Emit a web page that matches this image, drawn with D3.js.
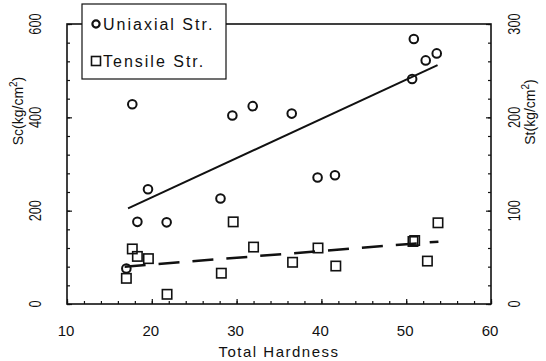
<!DOCTYPE html>
<html>
<head>
<meta charset="utf-8">
<script src="https://cdn.jsdelivr.net/npm/d3@7"></script>
<style>
  body { margin: 0; background: #fff; }
  svg { display: block; font-family: "Liberation Sans", Arial, sans-serif; }
</style>
</head>
<body>
<svg id="chart" width="546" height="361"></svg>
<script>
// hardness / strength readings
var uniHard = [17.0, 17.7, 18.3, 19.55, 21.75, 28.1, 29.5, 31.9, 36.5, 39.55, 41.6, 50.7, 50.9, 52.3, 53.6];
var uniStr  = [76, 428, 176, 246, 175, 226, 404, 424, 408, 271, 276, 482, 568, 522, 537];

var tenHard = [17.0, 17.7, 18.3, 19.6, 21.8, 28.2, 29.6, 32.0, 36.6, 39.6, 41.7, 50.8, 51.0, 52.5, 53.75];
var tenStr  = [27.5, 59, 51, 48.6, 10.4, 33, 88, 61, 44.7, 60, 40.7, 67, 68, 46, 87];

// fitted lines (end points)
var uniFit = [[17.2, 205], [53.7, 512]];
var tenFit = [[16.8, 40], [53.8, 66.8]];

var xTicks = [10, 20, 30, 40, 50, 60];
var leftTicks = [0, 200, 400, 600];
var rightTicks = [0, 100, 200, 300];

var svg = d3.select("#chart");

var x = d3.scaleLinear().domain([10, 60]).range([67, 491]);
var yL = d3.scaleLinear().domain([0, 600]).range([304, 24]);
var yR = d3.scaleLinear().domain([0, 300]).range([304, 24]);

// inward ticks
function tickAxis(axis, minor, major, tr) {
  var g1 = svg.append("g").attr("transform", tr)
    .call(axis.tickValues(minor).tickSize(-3).tickFormat(""));
  g1.select(".domain").remove();
  var g2 = svg.append("g").attr("transform", tr)
    .call(axis.tickValues(major).tickSize(-5).tickFormat(""));
  g2.select(".domain").remove();
  svg.selectAll(".tick line").attr("stroke", "#111").attr("stroke-width", 1.2);
}
tickAxis(d3.axisBottom(x), d3.range(10, 61, 2), xTicks, "translate(0,304)");
tickAxis(d3.axisLeft(yL), d3.range(0, 601, 40), leftTicks, "translate(67,0)");
tickAxis(d3.axisRight(yR), d3.range(0, 301, 20), rightTicks, "translate(491,0)");

// frame
svg.append("rect")
  .attr("x", 67).attr("y", 24).attr("width", 424).attr("height", 280)
  .attr("fill", "none").attr("stroke", "#111").attr("stroke-width", 1.6);

// tick labels
svg.selectAll(".xl").data(xTicks).enter().append("text")
  .attr("class", "xl")
  .attr("x", d => x(d) - 1).attr("y", 336)
  .attr("text-anchor", "middle").attr("font-size", 15).attr("fill", "#111")
  .text(d => d);

function sideLabels(cls, ticks, scale, cx) {
  var g = svg.selectAll("." + cls).data(ticks).enter().append("g")
    .attr("class", cls)
    .attr("transform", d => "translate(" + cx + "," + scale(d) + ") rotate(-90)");
  g.append("text")
    .attr("transform", "scale(0.85,1.1)")
    .attr("text-anchor", "middle").attr("dy", "0.35em")
    .attr("font-size", 15).attr("fill", "#111")
    .text(d => d);
}
sideLabels("yl", leftTicks, yL, 35);
sideLabels("yr", rightTicks, yR, 514);

// axis titles
svg.append("text")
  .attr("x", 279).attr("y", 357)
  .attr("text-anchor", "middle").attr("font-size", 15)
  .attr("letter-spacing", 1.5).attr("fill", "#111")
  .text("Total Hardness");

function unitTitle(txt, cx, cy) {
  var t = svg.append("g")
    .attr("transform", "translate(" + cx + "," + cy + ") rotate(-90)")
    .append("text")
    .attr("text-anchor", "middle").attr("dy", "0.35em")
    .attr("font-size", 14).attr("fill", "#111");
  t.append("tspan").text(txt + "(kg/cm");
  t.append("tspan").attr("font-size", 10).attr("dy", "-0.6em").text("2");
  t.append("tspan").attr("dy", "0.45em").text(")");
}
unitTitle("Sc", 18, 111);
unitTitle("St", 530, 112);

// fitted lines
var line = d3.line().x(d => x(d[0]));
svg.append("path")
  .attr("d", line.y(d => yL(d[1]))(uniFit))
  .attr("fill", "none").attr("stroke", "#111").attr("stroke-width", 2);
svg.append("path")
  .attr("d", line.y(d => yR(d[1]))(tenFit))
  .attr("fill", "none").attr("stroke", "#111").attr("stroke-width", 2.5)
  .attr("stroke-dasharray", "21,13");

// markers
svg.selectAll(".uni").data(uniHard).enter().append("circle")
  .attr("class", "uni")
  .attr("cx", d => x(d)).attr("cy", (d, i) => yL(uniStr[i]))
  .attr("r", 4.3)
  .attr("fill", "none").attr("stroke", "#111").attr("stroke-width", 2);

svg.selectAll(".ten").data(tenHard).enter().append("rect")
  .attr("class", "ten")
  .attr("x", d => x(d) - 4.7).attr("y", (d, i) => yR(tenStr[i]) - 4.7)
  .attr("width", 9.4).attr("height", 9.4)
  .attr("fill", "none").attr("stroke", "#111").attr("stroke-width", 1.6);

// legend
var lg = svg.append("g");
lg.append("rect")
  .attr("x", 82).attr("y", 4).attr("width", 144).attr("height", 75)
  .attr("fill", "#fff").attr("stroke", "#111").attr("stroke-width", 1.2);
lg.append("circle").attr("cx", 96).attr("cy", 24).attr("r", 3.6)
  .attr("fill", "none").attr("stroke", "#111").attr("stroke-width", 2.2);
lg.append("rect").attr("x", 91.5).attr("y", 56.5).attr("width", 9).attr("height", 9)
  .attr("fill", "none").attr("stroke", "#111").attr("stroke-width", 1.6);
lg.append("text").attr("x", 103).attr("y", 30)
  .attr("font-size", 16).attr("letter-spacing", 2).attr("fill", "#111")
  .text("Uniaxial Str.");
lg.append("text").attr("x", 103).attr("y", 67)
  .attr("font-size", 16).attr("letter-spacing", 2).attr("fill", "#111")
  .text("Tensile Str.");
</script>
</body>
</html>
